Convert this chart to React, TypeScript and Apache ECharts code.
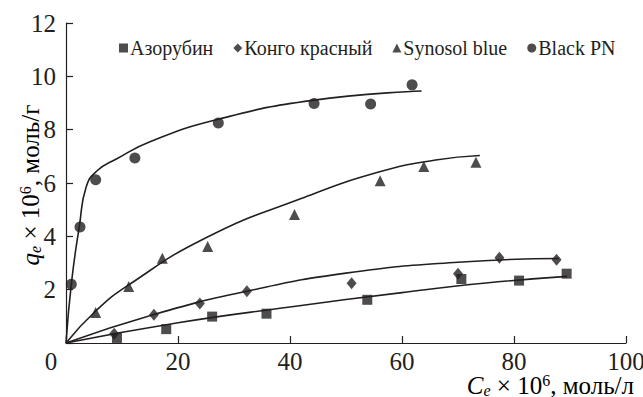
import React, { useEffect, useRef } from 'react';
import * as echarts from 'echarts';

// ---- data ----
const seriesNames = ['Азорубин', 'Конго красный', 'Synosol blue', 'Black PN'];

// measured points
const azorubinX = [9.1, 17.9, 26.1, 35.8, 53.8, 70.6, 80.9, 89.4];
const azorubinY = [0.19, 0.52, 0.99, 1.1, 1.62, 2.4, 2.34, 2.6];
const congoX = [8.6, 15.7, 23.9, 32.3, 51.0, 70.0, 77.4, 87.6];
const congoY = [0.35, 1.06, 1.48, 1.94, 2.24, 2.6, 3.2, 3.12];
const synosolX = [5.3, 11.2, 17.2, 25.3, 40.8, 56.1, 63.9, 73.2];
const synosolY = [1.14, 2.12, 3.18, 3.62, 4.82, 6.08, 6.62, 6.78];
const blackX = [0.95, 2.5, 5.3, 12.3, 27.2, 44.3, 54.4, 61.8];
const blackY = [2.2, 4.35, 6.12, 6.94, 8.25, 8.98, 8.96, 9.68];

// fitted curves
const azorubinFitX = [0, 20, 40, 60, 75, 89.5];
const azorubinFitY = [0, 0.76, 1.35, 1.89, 2.25, 2.5];
const congoFitX = [0, 15.7, 32.3, 50, 70, 88];
const congoFitY = [0, 1.07, 1.94, 2.62, 3.03, 3.17];
const synosolFitX = [0, 5.3, 11, 25, 42, 56, 66, 73.9];
const synosolFitY = [0, 1.2, 2.15, 3.95, 5.42, 6.42, 6.86, 7.03];
const blackFitX = [0, 1.0, 2.4, 3.6, 5.5, 9, 15, 27, 44, 63.5];
const blackFitY = [0, 2.3, 4.4, 5.85, 6.45, 6.9, 7.55, 8.38, 9.1, 9.45];

const xMin = 0;
const xMax = 100;
const xStep = 20;
const yMin = 0;
const yMax = 12;
const yStep = 2;

const INK = '#231f20';
const FONT = 'Liberation Serif';

const pair = (xs: number[], ys: number[]) => xs.map((x, i) => [x, ys[i]]);

export default function App() {
  const ref = useRef<HTMLDivElement>(null);

  useEffect(() => {
    if (!ref.current) return;
    const chart = echarts.init(ref.current, undefined, { renderer: 'svg' });

    const nameRich = {
      i: { fontFamily: FONT, fontStyle: 'italic', fontSize: 25, color: INK, lineHeight: 24, verticalAlign: 'middle' },
      n: { fontFamily: FONT, fontSize: 25, color: INK, lineHeight: 24, verticalAlign: 'middle' },
      sub: { fontFamily: FONT, fontStyle: 'italic', fontSize: 16, color: INK, lineHeight: 14, verticalAlign: 'bottom', padding: [0, 0, -1, 0] },
      sup: { fontFamily: FONT, fontSize: 16, color: INK, lineHeight: 14, verticalAlign: 'top', padding: [-1, 0, 0, 0] },
    };

    const symbols = ['rect', 'diamond', 'triangle', 'circle'];
    const sizes: any[] = [10, [10, 12], 11, 11];
    const pts = [
      pair(azorubinX, azorubinY),
      pair(congoX, congoY),
      pair(synosolX, synosolY),
      pair(blackX, blackY),
    ];
    const fits = [
      pair(azorubinFitX, azorubinFitY),
      pair(congoFitX, congoFitY),
      pair(synosolFitX, synosolFitY),
      pair(blackFitX, blackFitY),
    ];

    const series: any[] = [];
    fits.forEach((d, k) => {
      series.push({
        type: 'line',
        name: 'fit' + k,
        data: d,
        smooth: 0.5,
        showSymbol: false,
        symbol: 'none',
        lineStyle: { color: INK, width: 1.6 },
        silent: true,
        z: 2,
      });
    });
    pts.forEach((d, k) => {
      series.push({
        type: 'scatter',
        name: seriesNames[k],
        data: d,
        symbol: symbols[k],
        symbolSize: sizes[k],
        itemStyle: { color: INK },
        z: 3,
      });
    });

    chart.setOption({
      animation: false,
      backgroundColor: '#ffffff',
      textStyle: { fontFamily: FONT },
      grid: { left: 66, right: 17, top: 23, bottom: 54, outerBoundsMode: 'none', containLabel: false },
      legend: {
        data: seriesNames.map((n, k) => ({ name: n, icon: symbols[k] })),
        left: 114,
        top: 33,
        itemWidth: 9,
        itemHeight: 9,
        itemGap: 20,
        textStyle: { fontFamily: FONT, fontSize: 20, color: INK, padding: [0, 0, 0, -3] },
        selectedMode: false,
      },
      xAxis: {
        type: 'value',
        min: xMin,
        max: xMax,
        interval: xStep,
        splitLine: { show: false },
        axisLine: { lineStyle: { color: INK, width: 1.2 } },
        axisTick: { inside: true, length: 7, lineStyle: { color: INK, width: 1.2 } },
        axisLabel: {
          fontFamily: FONT,
          fontSize: 25,
          lineHeight: 20,
          color: INK,
          margin: 8,
          formatter: (v: number) => (v === 0 ? '' : String(v)),
        },
      },
      yAxis: {
        type: 'value',
        min: yMin,
        max: yMax,
        interval: yStep,
        splitLine: { show: false },
        axisLine: { lineStyle: { color: INK, width: 1.2 } },
        axisTick: { inside: true, length: 7, lineStyle: { color: INK, width: 1.2 } },
        axisLabel: {
          fontFamily: FONT,
          fontSize: 25,
          color: INK,
          margin: 10,
          formatter: (v: number) => (v === 0 ? '' : String(v)),
        },
      },
      graphic: [
        {
          type: 'text',
          x: 51,
          y: 361,
          style: { text: '0', fontFamily: FONT, fontSize: 25, fill: INK, align: 'center', verticalAlign: 'middle' },
        },
        {
          type: 'text',
          x: 634,
          y: 385,
          style: {
            text: '{i|C}{sub|e}{n| × 10}{sup|6}{n|, моль/л}',
            rich: nameRich,
            align: 'right',
            verticalAlign: 'middle',
          },
        },
        {
          type: 'text',
          x: 30,
          y: 185,
          rotation: Math.PI / 2,
          style: {
            text: '{i|q}{sub|e}{n| × 10}{sup|6}{n|, моль/г}',
            rich: nameRich,
            align: 'center',
            verticalAlign: 'middle',
          },
        },
      ],
      series,
    });

    return () => chart.dispose();
  }, []);

  return <div ref={ref} style={{ position: 'fixed', left: 0, top: 0, width: 643, height: 397 }} />;
}
